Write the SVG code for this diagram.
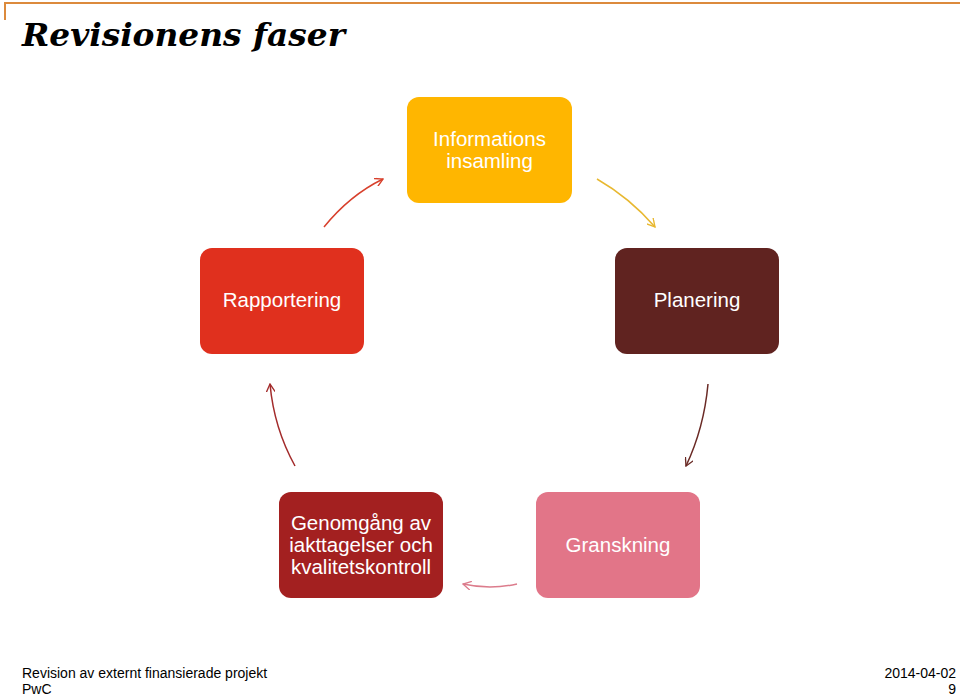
<svg xmlns="http://www.w3.org/2000/svg" width="960" height="697" viewBox="0 0 960 697">
<style>
.n{font-family:"Liberation Sans",Arial,sans-serif;font-size:20.500px;fill:#fff;text-anchor:middle}
.c{fill:none;stroke-width:1.5}
.f{font-family:"Liberation Sans",Arial,sans-serif;font-size:14px;fill:#000}
</style>
<defs>
<marker id="mY" viewBox="0 0 10 10" refX="9" refY="5" markerWidth="9" markerHeight="9" orient="auto" markerUnits="userSpaceOnUse"><path d="M0,0 L9,5 L0,10" fill="none" stroke="#e8b830" stroke-width="1.5"/></marker>
<marker id="mB" viewBox="0 0 10 10" refX="9" refY="5" markerWidth="9" markerHeight="9" orient="auto" markerUnits="userSpaceOnUse"><path d="M0,0 L9,5 L0,10" fill="none" stroke="#6a2a25" stroke-width="1.5"/></marker>
<marker id="mP" viewBox="0 0 10 10" refX="9" refY="5" markerWidth="9" markerHeight="9" orient="auto" markerUnits="userSpaceOnUse"><path d="M0,0 L9,5 L0,10" fill="none" stroke="#dc7c8c" stroke-width="1.5"/></marker>
<marker id="mD" viewBox="0 0 10 10" refX="9" refY="5" markerWidth="9" markerHeight="9" orient="auto" markerUnits="userSpaceOnUse"><path d="M0,0 L9,5 L0,10" fill="none" stroke="#a32b2b" stroke-width="1.5"/></marker>
<marker id="mR" viewBox="0 0 10 10" refX="9" refY="5" markerWidth="9" markerHeight="9" orient="auto" markerUnits="userSpaceOnUse"><path d="M0,0 L9,5 L0,10" fill="none" stroke="#d8402c" stroke-width="1.5"/></marker>
</defs>
<rect width="960" height="697" fill="#fff"/>
<path d="M5,20 V3 H960" fill="none" stroke="#dc8a3c" stroke-width="2"/>
<text x="22" y="46" font-family="'DejaVu Serif',serif" font-size="31" font-weight="bold" font-style="italic" textLength="323" lengthAdjust="spacingAndGlyphs">Revisionens faser</text>
<g id="connectors">
<path class="c" stroke="#d8402c" d="M324,227 Q350,195 383,179" marker-end="url(#mR)"/>
<path class="c" stroke="#e8b830" d="M597,179 Q630,198 655,227" marker-end="url(#mY)"/>
<path class="c" stroke="#6a2a25" d="M708,384 Q704,428 686,466" marker-end="url(#mB)"/>
<path class="c" stroke="#dc7c8c" d="M517,584 Q490,590 463,584" marker-end="url(#mP)"/>
<path class="c" stroke="#a32b2b" d="M295,466 Q274,428 270,384" marker-end="url(#mD)"/>
</g>
<g id="info"><rect x="407" y="97" width="165" height="106" rx="12" fill="#ffb600"/><text class="n" x="489.500" y="146">Informations</text><text class="n" x="489.500" y="168">insamling</text></g>
<g id="rapportering"><rect x="200" y="248" width="164" height="106" rx="12" fill="#e0301e"/><text class="n" x="282" y="307">Rapportering</text></g>
<g id="planering"><rect x="615" y="248" width="164" height="106" rx="12" fill="#602320"/><text class="n" x="697" y="307">Planering</text></g>
<g id="genomgang"><rect x="279" y="492" width="164" height="106" rx="12" fill="#a32020"/><text class="n" x="361" y="530">Genomgång av</text><text class="n" x="361" y="552">iakttagelser och</text><text class="n" x="361" y="574">kvalitetskontroll</text></g>
<g id="granskning"><rect x="536" y="492" width="164" height="106" rx="12" fill="#e27588"/><text class="n" x="618" y="552">Granskning</text></g>
<text class="f" x="22" y="678">Revision av externt finansierade projekt</text>
<text class="f" x="22" y="694">PwC</text>
<text class="f" x="956" y="678" text-anchor="end">2014-04-02</text>
<text class="f" x="956" y="694" text-anchor="end">9</text>
</svg>
